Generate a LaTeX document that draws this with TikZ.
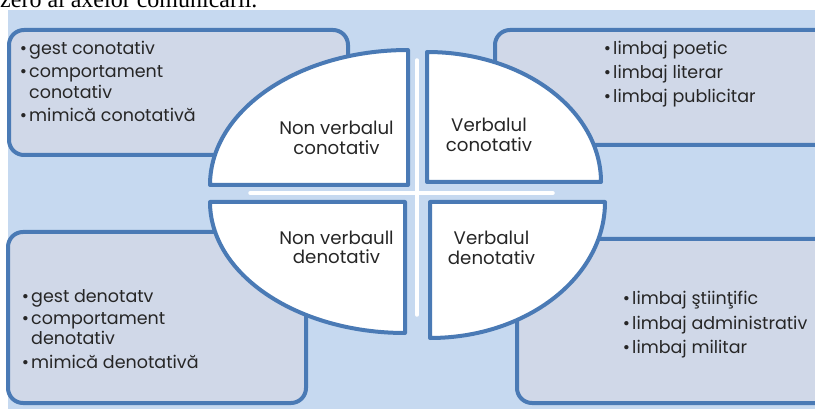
\documentclass[tikz,border=0pt]{standalone}
\usepackage{fontspec}
\setmainfont{Poppins}
\newfontfamily\titlefont{Liberation Serif}
\definecolor{bgblue}{HTML}{C6D9F0}
\definecolor{boxfill}{HTML}{D0D8E8}
\definecolor{edgeblue}{HTML}{4A7AB5}
\tikzset{
  sidebox/.style={draw=edgeblue, fill=boxfill, line width=4pt, rounded corners=15pt},
  quad/.style={draw=edgeblue, fill=white, line width=4pt, line join=round},
  crossline/.style={draw=white, line width=3.5pt, line cap=round},
  itemtext/.style={anchor=base west, inner sep=0pt, font=\fontsize{17.5}{20}\selectfont, text=black!85},
  quadtext/.style={anchor=base, inner sep=0pt, font=\fontsize{18.2}{20}\selectfont, text=black!85},
}
\newcommand{\bul}{\llap{•\hspace{2pt}}}
\begin{document}
\begin{tikzpicture}[x=1pt,y=-1pt]
\useasboundingbox (0,0) rectangle (815,409);
\clip (0,0) rectangle (815,409);
% background
\fill[bgblue] (8,10) rectangle (815,409);
% cut-off title text (cut at the top edge, as in the reference)
\node[anchor=base west, inner sep=0pt, font=\titlefont\fontsize{24}{28}\selectfont] (title) at (0,8) {zero al axelor comunicării.};
% side boxes
\draw[sidebox] (9,30) rectangle (348,155);
\draw[sidebox] (495,30) rectangle (835,145);
\draw[sidebox] (8,232) rectangle (306,403);
\draw[sidebox] (517,239) rectangle (835,403);
% quadrants
\draw[quad] (408,185) -- (210,185) arc[start angle=180, end angle=270, x radius=198, y radius=135] -- cycle;
\draw[quad] (427,182) -- (427,52) arc[start angle=270, end angle=360, x radius=174, y radius=130] -- cycle;
\draw[quad] (430,202) -- (605,202) arc[start angle=0, end angle=90, x radius=175, y radius=136] -- cycle;
\draw[quad] (405,202) -- (405,333) arc[start angle=90, end angle=180, x radius=195, y radius=131] -- cycle;
% white cross
\draw[crossline] (417,60) -- (417,315);
\draw[crossline] (250,193) -- (553,193);
% quadrant texts
\node[quadtext] (q1a) at (336.5,135) {Non verbalul};
\node[quadtext] (q1b) at (336.5,155) {conotativ};
\node[quadtext] (q2a) at (489,132) {Verbalul};
\node[quadtext] (q2b) at (489,152) {conotativ};
\node[quadtext] (q3a) at (336.5,244) {Non verbaull};
\node[quadtext] (q3b) at (336.5,264) {denotativ};
\node[quadtext] (q4a) at (491.5,245) {Verbalul};
\node[quadtext] (q4b) at (491.5,265) {denotativ};
% top-left list
\node[itemtext] (tl1) at (29,55) {\bul gest conotativ};
\node[itemtext] (tl2) at (29,78) {\bul comportament};
\node[itemtext] (tl3) at (29,99) {conotativ};
\node[itemtext] (tl4) at (29,122) {\bul mimică conotativă};
% top-right list
\node[itemtext] (tr1) at (613,55) {\bul limbaj poetic};
\node[itemtext] (tr2) at (613,79) {\bul limbaj literar};
\node[itemtext] (tr3) at (613,103) {\bul limbaj publicitar};
% bottom-left list
\node[itemtext] (bl1) at (31,302) {\bul gest denotatv};
\node[itemtext] (bl2) at (31,324) {\bul comportament};
\node[itemtext] (bl3) at (31,344) {denotativ};
\node[itemtext] (bl4) at (31,368) {\bul mimică denotativă};
% bottom-right list
\node[itemtext] (br1) at (632,305) {\bul limbaj ştiinţific};
\node[itemtext] (br2) at (632,329) {\bul limbaj administrativ};
\node[itemtext] (br3) at (632,353) {\bul limbaj militar};
\end{tikzpicture}
\end{document}
